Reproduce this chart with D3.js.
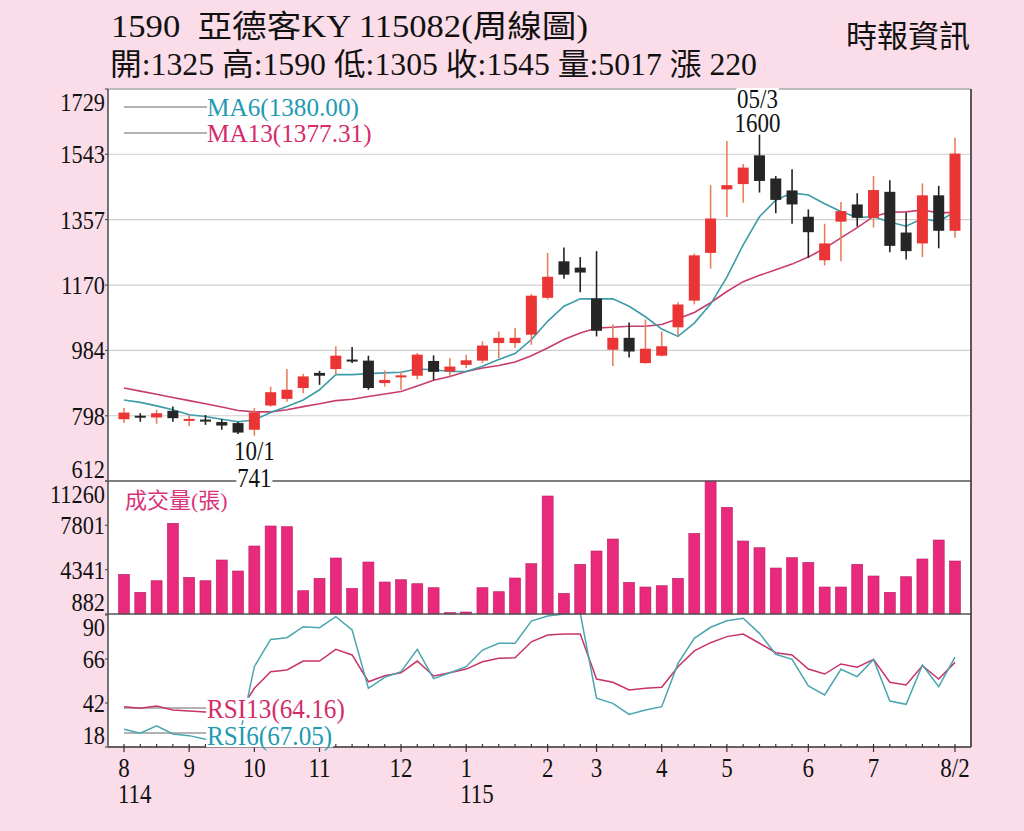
<!DOCTYPE html>
<meta charset="utf-8">
<script src="https://cdnjs.cloudflare.com/ajax/libs/d3/7.8.5/d3.min.js"></script>
<style>
  body { margin: 0; background: #fadde8; }
  svg { display: block; }
  text { font-family: "Liberation Serif", "Noto Sans CJK TC", serif; }
</style>
<div id="chart"></div>
<script>

// weekly candles
const opens  = [788,798,793,812,787,787,780,777,758,827,846,877,920,931,958,955,891,908,912,954,924,943,955,1005,1005,1029,1134,1238,1220,1132,986,1020,948,969,1050,1126,1262,1443,1458,1540,1474,1440,1365,1241,1351,1400,1362,1436,1320,1289,1426,1325];
const highs  = [820,805,815,824,800,800,788,781,820,881,931,917,926,996,994,969,927,924,977,970,962,972,1010,1038,1048,1145,1262,1277,1250,1267,1058,1064,1072,1038,1121,1260,1455,1581,1515,1600,1481,1500,1386,1345,1407,1432,1481,1469,1377,1460,1453,1590];
const lows   = [777,781,775,781,769,772,758,746,741,824,838,862,886,915,948,872,881,872,902,900,910,934,948,962,991,1000,1129,1188,1150,1024,940,964,946,967,1026,1115,1217,1364,1405,1434,1375,1345,1248,1226,1238,1337,1334,1264,1243,1250,1275,1305];
const closes = [807,797,805,791,789,785,770,750,807,865,872,910,912,969,957,877,900,913,972,923,938,956,998,1020,1020,1140,1194,1200,1206,1040,1020,981,989,996,1115,1255,1360,1455,1505,1467,1413,1400,1321,1289,1381,1362,1441,1282,1267,1426,1325,1545];

// moving averages
const ma6  = [843,836,826,815,801,796,788,781,786,807,824,843,872,915,915,918,920,922,931,929,924,924,939,958,975,1015,1067,1110,1131,1131,1131,1110,1080,1045,1024,1062,1116,1193,1285,1365,1412,1433,1427,1402,1380,1363,1365,1350,1338,1360,1351,1380];
const ma13 = [877,868,859,850,841,832,823,813,809,809,815,824,832,841,845,853,860,867,883,899,910,924,934,941,951,969,991,1015,1034,1048,1050,1053,1053,1058,1074,1092,1120,1152,1180,1198,1214,1230,1250,1275,1305,1334,1366,1378,1379,1384,1376,1377.31];

// volume (張)
const volume = [3980,2575,3480,7959,3746,3480,5096,4237,6188,7749,7694,2700,3668,5252,2887,4939,3379,3558,3246,2934,983,1038,2934,2622,3691,4807,10089,2497,4760,5798,6734,3355,2989,3090,3668,7179,11260,9208,6578,6055,4471,5275,4916,2989,2989,4760,3847,2575,3792,5174,6656,5017];

// RSI
const rsi13 = [40.0,39.1,40.4,38.2,37.6,37.1,36.5,36,50,59.1,60,64.9,64.9,71.3,68.2,53.6,56.9,58.5,64.9,56.7,58.5,60.5,64.5,66.4,66.7,75.4,79.1,79.6,79.6,55.1,53.3,49.1,50,50.6,61.8,70.4,74.9,78.2,79.6,74.6,69.4,68.2,60.5,57.8,63.3,61.5,65.8,53.3,51.8,62.3,55.1,64.16];
const rsi6  = [27.7,25.5,29.5,25.1,24.2,22.2,21,20,61.8,76.7,77.6,83.6,83.1,89.1,81.8,50,56,59.1,71.3,55.3,58.5,61.8,70.9,74.6,74.6,86.7,89.5,90.5,91,44.6,41.8,35.8,38.2,40,63.6,77.3,83.3,86.9,88.2,80,68.6,65.8,51.3,46.4,60.4,56.4,65.8,43.1,41.3,62.7,50.9,67.05];

// axis ticks
const priceTicks = [612,798,984,1170,1357,1543,1729];
const volTicks = [882,4341,7801,11260];
const rsiTicks = [18,42,66,90];
const monthLabels = ["8","9","10","11","12","1","2","3","4","5","6","7","8/2"];
const monthIdx = [0,4,8,12,17,21,26,29,33,37,42,46,51];
const yearLabels = ["114","115"];
const yearIdx = [0,21];

const title1 = "1590  亞德客KY 115082(周線圖)";
const title2 = "開:1325 高:1590 低:1305 收:1545 量:5017 漲 220";

var W = 1024, H = 831;
var L = 108, R = 971;
var pTop = 89, pBot = 481, vBot = 614, rBot = 747;

var svg = d3.select("#chart").append("svg")
    .attr("width", W).attr("height", H);

svg.append("rect").attr("width", W).attr("height", H).attr("fill", "#fadde8");
svg.append("rect").attr("x", L).attr("y", pTop).attr("width", R - L).attr("height", rBot - pTop).attr("fill", "#fff");

var n = closes.length;
var x = d3.scalePoint().domain(d3.range(n)).range([124, 955]);
var yP = d3.scaleLinear().domain([612, 1729]).range([pBot, pTop]);
var yV = d3.scaleLinear().domain([882, 11260]).range([vBot, pBot]);
var yR = d3.scaleLinear().domain([18, 90]).range([rBot, vBot + 1]);

var defs = svg.append("defs");
defs.append("clipPath").attr("id", "clipP").append("rect")
    .attr("x", L).attr("y", pTop).attr("width", R - L).attr("height", pBot - pTop);
defs.append("clipPath").attr("id", "clipR").append("rect")
    .attr("x", L).attr("y", vBot).attr("width", R - L).attr("height", rBot - vBot);

// condensed serif text helper, optional white box behind
function label(g, tx, ty, s, o) {
    o = o || {};
    var gg = g.append("g").attr("transform", "translate(" + tx + "," + ty + ") scale(" + (o.sx || 0.86) + ",1)");
    var t = gg.append("text")
        .attr("font-size", o.size || 27)
        .attr("fill", o.fill || "#111")
        .attr("text-anchor", o.anchor || "start")
        .text(s);
    if (o.bg) {
        var b = t.node().getBBox();
        gg.insert("rect", "text").attr("x", b.x - 1).attr("y", b.y + 5).attr("width", b.width + 2).attr("height", b.height - 9).attr("fill", "#fff");
    }
    return t;
}

// gridlines in price panel
svg.append("g").selectAll("line")
    .data(priceTicks.slice(1, -1))
    .join("line")
    .attr("x1", L).attr("x2", R)
    .attr("y1", d => yP(d)).attr("y2", d => yP(d))
    .attr("stroke", "#cfcfcf").attr("stroke-width", 1.2);

// legend lines
var leg = svg.append("g").attr("stroke", "#9a9a9a").attr("stroke-width", 1.3);
[107, 133, 708, 733].forEach(function (yy) {
    leg.append("line").attr("x1", 124).attr("x2", 207).attr("y1", yy).attr("y2", yy);
});

// moving averages
var pg = svg.append("g").attr("clip-path", "url(#clipP)");
var lineP = d3.line().x((d, i) => x(i)).y(d => yP(d));
pg.append("path").datum(ma13).attr("d", lineP).attr("fill", "none").attr("stroke", "#c83c6e").attr("stroke-width", 1.6);
pg.append("path").datum(ma6).attr("d", lineP).attr("fill", "none").attr("stroke", "#3c9ca8").attr("stroke-width", 1.6);

// candles
var cw = 11;
var candles = pg.selectAll("g.c").data(d3.range(n)).join("g").attr("class", "c");
candles.append("line")
    .attr("x1", i => x(i)).attr("x2", i => x(i))
    .attr("y1", i => yP(highs[i])).attr("y2", i => yP(lows[i]))
    .attr("stroke", i => closes[i] > opens[i] ? "#e8805f" : "#222")
    .attr("stroke-width", 1.6);
candles.append("rect")
    .attr("x", i => x(i) - cw / 2)
    .attr("width", cw)
    .attr("y", i => yP(Math.max(opens[i], closes[i])))
    .attr("height", i => Math.max(2, Math.abs(yP(opens[i]) - yP(closes[i]))))
    .attr("fill", i => closes[i] > opens[i] ? "#eb3434" : "#262626");

// volume bars
svg.append("g").selectAll("rect")
    .data(volume)
    .join("rect")
    .attr("x", (d, i) => x(i) - cw / 2)
    .attr("width", cw)
    .attr("y", d => Math.min(vBot - 1.5, yV(d)))
    .attr("height", d => Math.max(1.5, vBot - yV(d)))
    .attr("fill", "#e8297c")
    .attr("stroke", "#b8206a").attr("stroke-width", 0.6);

// RSI lines
var rg = svg.append("g").attr("clip-path", "url(#clipR)");
var lineR = d3.line().x((d, i) => x(i)).y(d => yR(d));
rg.append("path").datum(rsi13).attr("d", lineR).attr("fill", "none").attr("stroke", "#c8336a").attr("stroke-width", 1.5);
rg.append("path").datum(rsi6).attr("d", lineR).attr("fill", "none").attr("stroke", "#4aa5b0").attr("stroke-width", 1.5);

// frame
var fr = svg.append("g");
fr.append("line").attr("x1", L).attr("x2", R).attr("y1", pTop).attr("y2", pTop).attr("stroke", "#aaa").attr("stroke-width", 1.5);
fr.append("line").attr("x1", L).attr("x2", R).attr("y1", pBot).attr("y2", pBot).attr("stroke", "#555").attr("stroke-width", 1.6);
fr.append("line").attr("x1", L).attr("x2", R).attr("y1", vBot).attr("y2", vBot).attr("stroke", "#555").attr("stroke-width", 1.6);
fr.append("line").attr("x1", L).attr("x2", R).attr("y1", rBot).attr("y2", rBot).attr("stroke", "#333").attr("stroke-width", 1.6);
fr.append("line").attr("x1", L).attr("x2", L).attr("y1", pTop).attr("y2", rBot).attr("stroke", "#555").attr("stroke-width", 1.6);
fr.append("line").attr("x1", R).attr("x2", R).attr("y1", pTop).attr("y2", rBot).attr("stroke", "#333").attr("stroke-width", 1.6);

// bottom axis ticks
fr.selectAll("line.minor").data(d3.range(n)).join("line").attr("class", "minor")
    .attr("x1", i => x(i)).attr("x2", i => x(i))
    .attr("y1", rBot).attr("y2", rBot - 3)
    .attr("stroke", "#333").attr("stroke-width", 1.2);
fr.selectAll("line.major").data(monthIdx).join("line").attr("class", "major")
    .attr("x1", i => x(i)).attr("x2", i => x(i))
    .attr("y1", rBot).attr("y2", rBot + 5)
    .attr("stroke", "#333").attr("stroke-width", 1.2);

// left axes: ticks and labels, end labels pulled inside the panel
function leftAxis(ticks, sc, lo, hi) {
    var g = svg.append("g");
    ticks.forEach(function (v) {
        var yy = sc(v);
        g.append("line").attr("x1", L - 3).attr("x2", L).attr("y1", yy).attr("y2", yy).attr("stroke", "#555").attr("stroke-width", 1.2);
        var ly = Math.max(lo + 13, Math.min(hi - 12, yy));
        label(g, 105, ly + 9, v, { anchor: "end", size: 26, sx: 0.86 });
    });
}
leftAxis(priceTicks, yP, pTop, pBot);
leftAxis(volTicks, yV, pBot, vBot);
leftAxis(rsiTicks, yR, vBot, rBot);

// month / year labels
var ax = svg.append("g");
monthLabels.forEach(function (m, k) {
    label(ax, x(monthIdx[k]), 777, m, { anchor: "middle", size: 28, sx: 0.82 });
});
yearLabels.forEach(function (yv, k) {
    label(ax, x(yearIdx[k]) - 6, 803, yv, { size: 28, sx: 0.82 });
});

// legends
var lg = svg.append("g");
label(lg, 207, 116, "MA6(" + ma6[n - 1].toFixed(2) + ")", { size: 26, sx: 0.97, fill: "#1f9ab3" });
label(lg, 207, 142, "MA13(" + ma13[n - 1].toFixed(2) + ")", { size: 26, sx: 0.97, fill: "#d42c6a" });
label(lg, 207, 718, "RSI13(" + rsi13[n - 1].toFixed(2) + ")", { size: 28, sx: 0.9, fill: "#d42c6a", bg: true });
label(lg, 207, 745, "RSI6(" + rsi6[n - 1].toFixed(2) + ")", { size: 28, sx: 0.9, fill: "#1f9ab3", bg: true });
lg.append("text").attr("x", 125).attr("y", 508).attr("font-size", 22).attr("fill", "#d8327a").text("成交量(張)");

// high / low annotations
var iHi = d3.maxIndex(highs), iLo = d3.minIndex(lows);
label(lg, x(iHi) - 2, 108, "05/3", { anchor: "middle", size: 28, sx: 0.82, bg: true });
label(lg, x(iHi) - 2, 132, highs[iHi], { anchor: "middle", size: 28, sx: 0.82, bg: true });
label(lg, x(iLo), 460, "10/1", { anchor: "middle", size: 28, sx: 0.82, bg: true });
label(lg, x(iLo), 487, lows[iLo], { anchor: "middle", size: 28, sx: 0.82, bg: true });

// header
svg.append("text").attr("x", 111).attr("y", 37).attr("font-size", 31).attr("fill", "#111")
    .attr("textLength", 477).attr("lengthAdjust", "spacingAndGlyphs").style("white-space", "pre").text(title1);
svg.append("text").attr("x", 110).attr("y", 75).attr("font-size", 31).attr("fill", "#111")
    .attr("textLength", 647).attr("lengthAdjust", "spacingAndGlyphs").text(title2);
svg.append("text").attr("x", 970).attr("y", 47).attr("font-size", 31).attr("fill", "#111")
    .attr("text-anchor", "end").text("時報資訊");

</script>
